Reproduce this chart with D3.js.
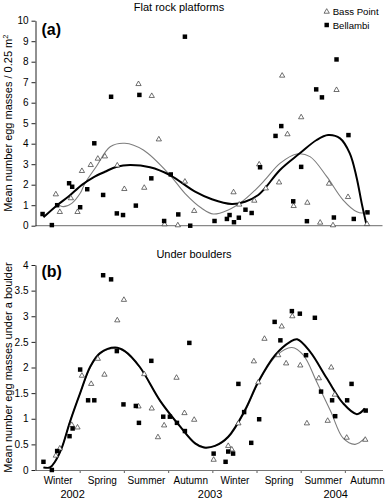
<!DOCTYPE html>
<html>
<head>
<meta charset="utf-8">
<script src="https://cdn.jsdelivr.net/npm/d3@7"></script>
<style>
body { margin: 0; background: #fff; }
text { font-family: Arial, "Liberation Sans", sans-serif; fill: #000; }
</style>
</head>
<body>
<script>
// x values are in seasons counted from the start of winter 2002
var seasons = ["Winter", "Spring", "Summer", "Autumn", "Winter", "Spring", "Summer", "Autumn"];
var seasonCentres = [0.5, 1.5, 2.5, 3.5, 4.5, 5.5, 6.5, 7.5];
var seasonBreaks = [1, 2, 3, 4, 5, 6, 7];
var years = ["2002", "2003", "2004"];
var yearTicks = [0.84, 3.95, 6.79];
var flatTicks = [0, 1, 2, 3, 4, 5, 6, 7, 8, 9, 10];
var boulderTicks = [0, 0.5, 1, 1.5, 2, 2.5, 3, 3.5, 4];

// Flat rock platforms
var flatBass = [[0.46,1.53],[0.55,0.67],[0.80,1.34],[0.95,0.67],[1.05,2.67],[1.25,2.96],[1.41,3.27],[1.57,3.38],
  [1.85,2.94],[2.01,1.79],[2.33,6.91],[2.46,1.85],[2.63,6.33],[2.79,4.21],[2.92,0.07],[3.22,0.02],[3.38,2.15],
  [3.59,0.72],[4.48,1.63],[4.61,1.03],[4.95,1.22],[5.06,2.99],[5.21,1.82],[5.51,2.11],[5.58,7.32],[5.70,4.46],
  [5.84,0.96],[6.01,5.29],[6.15,1.12],[6.44,0.15],[6.64,2.05],[6.73,0.02],[6.81,6.62],[7.07,1.40],[7.50,0.08]];
var flatBellambi = [[0.16,0.57],[0.37,0.03],[0.49,1.00],[0.76,2.07],[0.83,1.90],[1.01,0.90],[1.17,1.78],[1.33,4.02],
  [1.53,1.50],[1.71,6.29],[1.84,0.60],[1.98,0.52],[2.27,0.98],[2.35,6.38],[2.62,2.31],[2.91,0.23],[3.06,2.50],
  [3.23,0.55],[3.38,9.22],[3.50,0],[4.05,0.23],[4.33,0.33],[4.39,0.52],[4.49,0.17],[4.60,0.39],[4.75,0.78],
  [4.89,0.62],[5.08,2.85],[5.43,4.38],[5.56,4.86],[5.83,1.19],[6.01,2.87],[6.14,0.22],[6.35,6.65],[6.48,6.26],
  [6.75,0.40],[6.81,8.11],[7.08,4.42],[7.20,0.33],[7.51,0.65]];
var flatBassFit = [[0.46,1.09],[0.63,0.93],[0.82,1.09],[1.01,1.58],[1.12,2.07],[1.38,2.90],[1.69,3.85],[2.02,4.02],
  [2.44,3.69],[3.04,2.47],[3.38,1.58],[3.76,0.85],[4.02,0.57],[4.36,0.77],[4.67,1.17],[4.97,1.74],[5.19,2.23],
  [5.53,3.04],[5.91,3.50],[6.21,3.37],[6.59,2.39],[6.96,1.25],[7.27,0.68],[7.42,0.63],[7.50,0.75]];
var flatBellambiFit = [[0.18,0.41],[0.49,1.00],[0.74,1.41],[1.05,1.99],[1.31,2.36],[1.57,2.63],[1.84,2.88],
  [2.14,2.96],[2.59,2.85],[3.04,2.47],[3.61,1.66],[3.99,1.29],[4.44,1.06],[4.74,1.17],[5.04,1.50],[5.19,1.82],
  [5.53,2.72],[5.98,3.53],[6.36,4.18],[6.62,4.42],[6.89,4.26],[7.11,3.53],[7.26,2.39],[7.38,1.09],[7.48,0.12]];

// Under boulders
var boulderBass = [[0.46,0.28],[0.55,0.42],[0.82,0.88],[0.95,0.83],[1.05,1.84],[1.26,1.68],[1.41,2.17],[1.56,1.86],
  [1.85,2.92],[2.00,3.32],[2.33,1.24],[2.46,1.87],[2.63,1.20],[2.77,0.64],[2.91,0.87],[3.19,1.80],[3.37,1.11],
  [3.59,0.98],[4.03,0.20],[4.36,0.47],[4.44,0.40],[4.59,0.91],[4.94,2.12],[5.04,1.71],[5.18,2.56],[5.49,2.24],
  [5.57,2.80],[5.67,2.08],[5.81,3.00],[5.99,2.04],[6.14,0.91],[6.41,1.79],[6.61,0.96],[6.69,2.00],[6.77,1.47],
  [7.04,0.63],[7.46,0.59]];
var boulderBellambi = [[0.18,0.16],[0.37,0],[0.49,0.37],[0.77,0.66],[0.84,0.81],[1.01,1.96],[1.19,1.36],[1.33,1.36],
  [1.53,3.80],[1.71,3.72],[1.84,2.32],[1.99,1.28],[2.27,1.25],[2.34,0.92],[2.62,2.13],[2.89,1.04],[3.04,1.04],
  [3.20,0.92],[3.38,0.76],[3.48,2.48],[4.03,0.32],[4.30,0.16],[4.36,0.36],[4.47,0.32],[4.59,1.68],[4.72,1.13],
  [4.88,0.53],[5.06,0.99],[5.41,2.89],[5.54,2.53],[5.80,3.10],[5.98,3.05],[6.12,2.24],[6.32,2.97],[6.46,1.53],
  [6.71,1.36],[6.78,1.05],[7.05,1.36],[7.15,1.68],[7.47,1.16]];
var boulderBassFit = [[0.18,0.05],[0.33,0.06],[0.44,0.16],[0.59,0.43],[0.78,0.95],[1.01,1.50],[1.24,2.00],
  [1.46,2.27],[1.80,2.37],[2.02,2.31],[2.36,2.00],[2.82,1.35],[3.27,0.85],[3.61,0.53],[3.81,0.45],[4.06,0.47],
  [4.36,0.63],[4.74,1.14],[5.04,1.70],[5.46,2.24],[5.80,2.39],[6.06,2.24],[6.36,1.72],[6.68,1.14],[6.96,0.62],
  [7.23,0.50],[7.45,0.62]];
var boulderBellambiFit = [[0.18,0.05],[0.33,0.05],[0.44,0.16],[0.59,0.42],[0.78,0.94],[1.01,1.50],[1.24,2.02],
  [1.46,2.28],[1.80,2.39],[2.02,2.32],[2.36,2.01],[2.82,1.35],[3.27,0.85],[3.61,0.52],[3.81,0.44],[4.06,0.47],
  [4.36,0.65],[4.74,1.17],[5.04,1.72],[5.42,2.24],[5.76,2.50],[5.92,2.55],[6.21,2.31],[6.59,1.79],[6.96,1.30],
  [7.27,1.09],[7.45,1.20]];

var w = 385;
var h = 499;

var svg = d3.select("body")
    .append("svg")
    .attr("width", w)
    .attr("height", h);

var xScale = d3.scaleLinear().domain([0, 7.85]).range([35.5, 382.5]);
var yFlat = d3.scaleLinear().domain([0, 10]).range([225.7, 20.7]);
var yBoulder = d3.scaleLinear().domain([0, 4]).range([470, 265]);

function drawPanel(yScale, ticks, tickFmt, bass, bellambi, bassFit, bellambiFit) {
    var yAxis = d3.axisLeft(yScale).tickValues(ticks).tickFormat(tickFmt)
        .tickSize(4).tickSizeOuter(0).tickPadding(3);
    var g = svg.append("g").attr("class", "axis")
        .attr("transform", "translate(" + xScale.range()[0] + ",0)")
        .call(yAxis);
    g.selectAll("text").style("font-size", "10px");
    g.selectAll("line, path").attr("stroke", "#222");

    var line = function(ys) {
        return d3.line()
            .x(function(d) { return xScale(d[0]); })
            .y(function(d) { return ys(d[1]); })
            .curve(d3.curveCatmullRom.alpha(0.5));
    };

    svg.append("path").datum(bassFit)
        .attr("d", line(yScale))
        .attr("fill", "none").attr("stroke", "#7d7d7d").attr("stroke-width", 1.1);
    svg.append("path").datum(bellambiFit)
        .attr("d", line(yScale))
        .attr("fill", "none").attr("stroke", "#000").attr("stroke-width", 2);

    svg.append("g").selectAll("path")
        .data(bass)
        .enter()
        .append("path")
        .attr("d", d3.symbol().type(d3.symbolTriangle).size(12))
        .attr("transform", function(d) { return "translate(" + xScale(d[0]) + "," + yScale(d[1]) + ")"; })
        .attr("fill", "#fff").attr("stroke", "#333").attr("stroke-width", 0.7);

    svg.append("g").selectAll("path")
        .data(bellambi)
        .enter()
        .append("path")
        .attr("d", d3.symbol().type(d3.symbolSquare).size(20))
        .attr("transform", function(d) { return "translate(" + xScale(d[0]) + "," + yScale(d[1]) + ")"; })
        .attr("fill", "#000");
}

// (a) flat rock platforms: plain baseline, no ticks
svg.append("line")
    .attr("x1", xScale(0)).attr("x2", xScale(7.85))
    .attr("y1", yFlat(0)).attr("y2", yFlat(0))
    .attr("stroke", "#888").attr("stroke-width", 1.2);
drawPanel(yFlat, flatTicks, d3.format("d"), flatBass, flatBellambi, flatBassFit, flatBellambiFit);

// (b) under boulders: season ticks
var xAxis = d3.axisBottom(xScale).tickValues(seasonBreaks).tickFormat("")
    .tickSize(3).tickSizeOuter(0);
var gx = svg.append("g").attr("class", "axis")
    .attr("transform", "translate(0," + yBoulder(0) + ")")
    .call(xAxis);
gx.selectAll("line, path").attr("stroke", "#777").attr("stroke-width", 1.2);

var seasonAxis = d3.axisBottom(xScale).tickValues(seasonCentres)
    .tickFormat(function(d, i) { return seasons[i]; })
    .tickSize(0).tickPadding(7);
var gs = svg.append("g")
    .attr("transform", "translate(0," + yBoulder(0) + ")")
    .call(seasonAxis);
gs.select(".domain").remove();
gs.selectAll("text").style("font-size", "10px");

svg.append("g").selectAll("text")
    .data(years)
    .enter()
    .append("text")
    .attr("x", function(d, i) { return xScale(yearTicks[i]); })
    .attr("y", 498)
    .attr("text-anchor", "middle")
    .style("font-size", "11px")
    .text(function(d) { return d; });

drawPanel(yBoulder, boulderTicks, function(d) { return String(d); },
    boulderBass, boulderBellambi, boulderBassFit, boulderBellambiFit);

// titles and panel letters
svg.append("text").attr("x", 179).attr("y", 10.5).attr("text-anchor", "middle")
    .style("font-size", "11px").text("Flat rock platforms");
svg.append("text").attr("x", 194).attr("y", 258).attr("text-anchor", "middle")
    .style("font-size", "11px").text("Under boulders");
svg.append("text").attr("x", 41.5).attr("y", 35).style("font-size", "16px")
    .style("font-weight", "bold").text("(a)");
svg.append("text").attr("x", 41.5).attr("y", 277).style("font-size", "16px")
    .style("font-weight", "bold").text("(b)");

// y axis titles
var ta = svg.append("text")
    .attr("transform", "translate(11.5," + ((yFlat(0) + yFlat(10)) / 2) + ") rotate(-90)")
    .attr("text-anchor", "middle")
    .style("font-size", "11px");
ta.append("tspan").text("Mean number egg masses / 0.25 m");
ta.append("tspan").attr("dy", -4).style("font-size", "7.5px").text("2");

svg.append("text")
    .attr("transform", "translate(11.5," + ((yBoulder(0) + yBoulder(4)) / 2) + ") rotate(-90)")
    .attr("text-anchor", "middle")
    .style("font-size", "11px")
    .text("Mean number egg masses under a boulder");

// legend
var legend = svg.append("g").attr("transform", "translate(326.7,0)");
legend.append("path")
    .attr("d", d3.symbol().type(d3.symbolTriangle).size(12))
    .attr("transform", "translate(0,11.7)")
    .attr("fill", "#fff").attr("stroke", "#333").attr("stroke-width", 0.7);
legend.append("text").attr("x", 6).attr("y", 15.3).style("font-size", "9.6px").text("Bass Point");
legend.append("path")
    .attr("d", d3.symbol().type(d3.symbolSquare).size(20))
    .attr("transform", "translate(0,25)")
    .attr("fill", "#000");
legend.append("text").attr("x", 6).attr("y", 28.6).style("font-size", "9.6px").text("Bellambi");
</script>
</body>
</html>
